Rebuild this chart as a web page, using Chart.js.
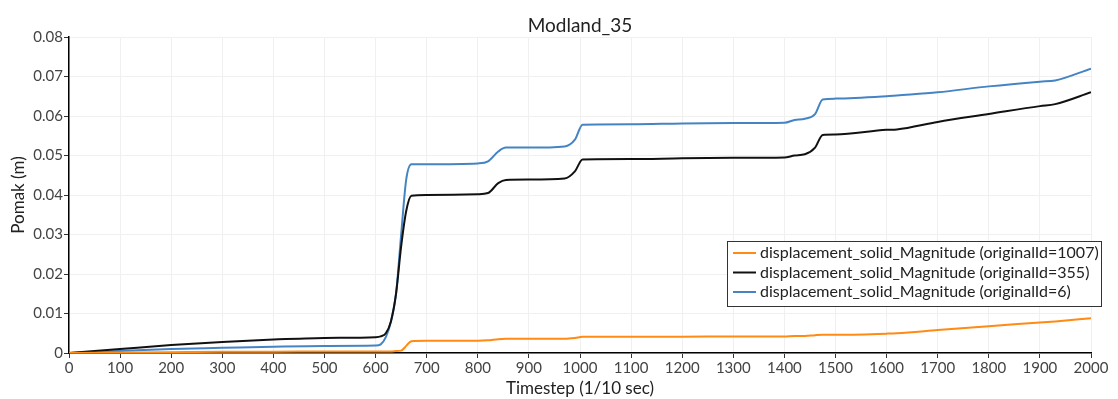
<!DOCTYPE html>
<html>
<head>
<meta charset="utf-8">
<script src="https://cdn.jsdelivr.net/npm/chart.js@4"></script>
<style>
  html, body { margin: 0; padding: 0; background: #fff; }
  #wrap { width: 1118px; height: 399px; }
</style>
</head>
<body>
<div id="wrap"><canvas id="myChart" width="1118" height="399"></canvas></div>
<script>
// timesteps (1/10 sec)
const steps = [0, 100, 200, 300, 400, 500, 600, 610, 620, 630, 640, 650, 660, 670, 700,
  800, 820, 840, 855, 900, 970, 990, 1005, 1100, 1200, 1300, 1400, 1420, 1440, 1460,
  1475, 1500, 1600, 1620, 1700, 1800, 1900, 1930, 2000];

// originalId=1007
const id1007 = [0, 0.0001, 0.0002, 0.0003, 0.0003, 0.0004, 0.0004, 0.0004, 0.0004, 0.0004,
  0.0005, 0.0006, 0.0018, 0.003, 0.0031, 0.0031, 0.0032, 0.0035, 0.0036, 0.0036, 0.0036,
  0.0038, 0.0041, 0.0041, 0.0041, 0.0042, 0.0042, 0.0043, 0.0043, 0.0045, 0.0046, 0.0046,
  0.0049, 0.005, 0.0058, 0.0068, 0.0077, 0.008, 0.0088];

// originalId=355
const id355 = [0, 0.001, 0.002, 0.0028, 0.0034, 0.0038, 0.004, 0.0042, 0.005, 0.008,
  0.015, 0.027, 0.036, 0.0398, 0.04, 0.0402, 0.0405, 0.043, 0.0438, 0.0439, 0.0442,
  0.046, 0.049, 0.0491, 0.0493, 0.0494, 0.0495, 0.05, 0.0503, 0.052, 0.0552, 0.0553,
  0.0565, 0.0566, 0.0585, 0.0605, 0.0625, 0.063, 0.066];

// originalId=6
const id6 = [0, 0.0005, 0.001, 0.0013, 0.0016, 0.0018, 0.0019, 0.0022, 0.004, 0.008,
  0.015, 0.03, 0.044, 0.0478, 0.0478, 0.048, 0.0485, 0.051, 0.052, 0.052, 0.0523,
  0.054, 0.0578, 0.0579, 0.0581, 0.0582, 0.0583, 0.059, 0.0593, 0.0605, 0.0642, 0.0644,
  0.065, 0.0652, 0.066, 0.0675, 0.0687, 0.069, 0.072];

const seriesNames = [
  "displacement_solid_Magnitude (originalId=1007)",
  "displacement_solid_Magnitude (originalId=355)",
  "displacement_solid_Magnitude (originalId=6)"
];
const seriesColors = ["#ff8a14", "#111111", "#4584c4"];
const chartTitle = "Modland_35";

const FONT = "Lato, 'DejaVu Sans', sans-serif";

function toPoints(values) {
  return steps.map((s, i) => ({ x: s, y: values[i] }));
}

const datasets = [id1007, id355, id6].map((vals, i) => ({
  label: seriesNames[i],
  data: toPoints(vals),
  borderColor: seriesColors[i],
  backgroundColor: seriesColors[i],
  borderWidth: 2,
  pointRadius: 0,
  cubicInterpolationMode: "monotone",
  fill: false,
}));

// title centred over the plot + legend box inside the plot, lower right
const boxLegend = {
  id: "boxLegend",
  afterDraw(chart) {
    const ctx = chart.ctx;
    const area = chart.chartArea;
    ctx.save();
    ctx.fillStyle = "#222";
    ctx.font = "19px " + FONT;
    ctx.textAlign = "center";
    ctx.textBaseline = "middle";
    ctx.fillText(chartTitle, (area.left + area.right) / 2, area.top - 11);

    const w = 374, h = 65;
    const left = area.right + 10 - w;
    const top = area.top + 204;
    ctx.fillStyle = "#fff";
    ctx.fillRect(left, top, w, h);
    ctx.strokeStyle = "#333";
    ctx.lineWidth = 1;
    ctx.strokeRect(left + 0.5, top + 0.5, w, h);
    ctx.font = "16px " + FONT;
    ctx.textAlign = "left";
    seriesNames.forEach((name, i) => {
      const y = top + 12 + i * 19.5;
      ctx.strokeStyle = seriesColors[i];
      ctx.lineWidth = 2;
      ctx.beginPath();
      ctx.moveTo(left + 6, y);
      ctx.lineTo(left + 29, y);
      ctx.stroke();
      ctx.fillStyle = "#222";
      ctx.fillText(name, left + 33, y);
    });
    ctx.restore();
  }
};

const config = {
  type: "line",
  data: { datasets: datasets },
  options: {
    responsive: false,
    animation: false,
    layout: { padding: { left: 8, right: 27, top: 37, bottom: 0 } },
    scales: {
      x: {
        type: "linear",
        min: 0,
        max: 2000,
        border: { color: "#000", width: 1.5 },
        grid: { color: "#f0f0f0", tickColor: "#333", tickLength: 5 },
        ticks: {
          stepSize: 100,
          color: "#444",
          font: { family: FONT, size: 15 },
          padding: 1,
          maxRotation: 0,
          callback: v => String(v)
        },
        title: { display: true, text: "Timestep (1/10 sec)", color: "#222", font: { family: FONT, size: 17 }, padding: 0 },
        afterFit(scale) { scale.height = 46; }
      },
      y: {
        min: 0,
        max: 0.08,
        border: { color: "#000", width: 1.5 },
        grid: { color: "#f0f0f0", tickColor: "#333", tickLength: 5 },
        ticks: {
          stepSize: 0.01,
          color: "#444",
          font: { family: FONT, size: 15 },
          padding: 1,
          callback: v => (v === 0 ? "0" : v.toFixed(2))
        },
        title: { display: true, text: "Pomak (m)", color: "#222", font: { family: FONT, size: 17 }, padding: 0 },
        afterFit(scale) { scale.width = 61; }
      }
    },
    plugins: {
      legend: { display: false },
      tooltip: { enabled: false },
      title: { display: false }
    }
  },
  plugins: [boxLegend]
};

const ctx = document.getElementById("myChart").getContext("2d");
const myChart = new Chart(ctx, config);
</script>
</body>
</html>
